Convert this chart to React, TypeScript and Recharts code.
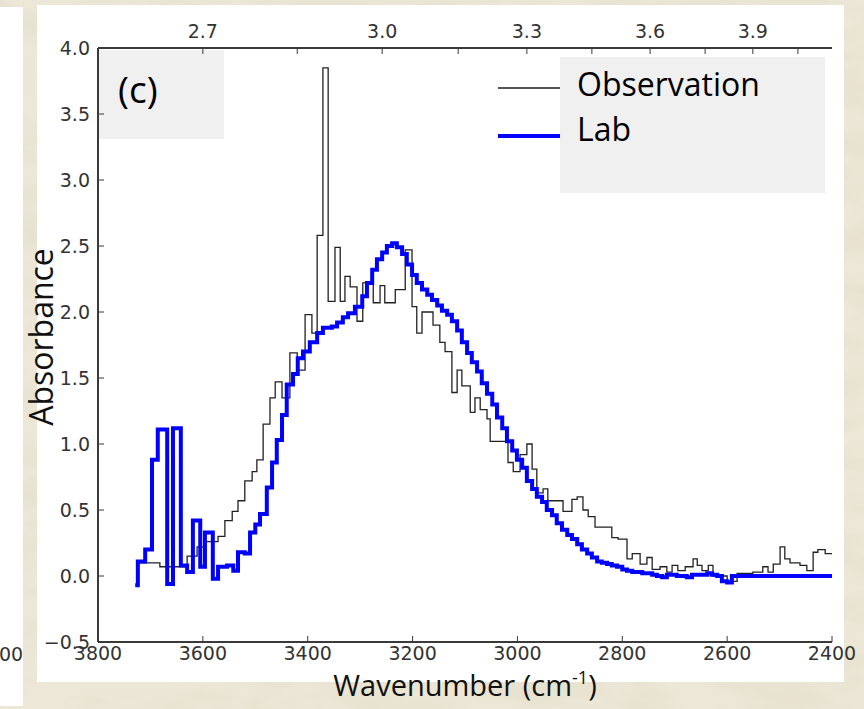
import React from 'react';
import { LineChart, Line, XAxis, YAxis, Legend } from 'recharts';

// ---- data (wavenumber in cm^-1, absorbance) ----
const obsWavenumber = [3726, 3682, 3630, 3611, 3596, 3571, 3558, 3544, 3533, 3520, 3506, 3497, 3485, 3472, 3462, 3449, 3434, 3420, 3405, 3392, 3382, 3371, 3361, 3348, 3338, 3329, 3319, 3306, 3295, 3275, 3262, 3253, 3233, 3214, 3201, 3192, 3182, 3161, 3148, 3138, 3125, 3115, 3106, 3090, 3081, 3071, 3058, 3052, 3018, 3008, 2995, 2982, 2972, 2963, 2951, 2942, 2913, 2896, 2886, 2875, 2865, 2852, 2820, 2808, 2791, 2781, 2766, 2753, 2743, 2728, 2715, 2705, 2694, 2680, 2665, 2657, 2648, 2636, 2627, 2600, 2581, 2551, 2532, 2522, 2512, 2499, 2490, 2480, 2461, 2448, 2436, 2427, 2413, 2400];
const obsAbsorbance = [0.10, 0.07, 0.15, 0.22, 0.26, 0.30, 0.42, 0.49, 0.57, 0.72, 0.79, 0.88, 1.15, 1.35, 1.47, 1.35, 1.69, 1.56, 1.98, 1.84, 2.58, 3.85, 2.08, 2.49, 2.08, 2.27, 2.19, 1.93, 2.22, 2.07, 2.20, 2.07, 2.17, 2.47, 2.04, 1.84, 2.00, 1.90, 1.77, 1.70, 1.39, 1.56, 1.44, 1.24, 1.35, 1.26, 1.19, 1.02, 0.86, 0.79, 0.92, 1.00, 0.81, 0.63, 0.66, 0.57, 0.49, 0.58, 0.60, 0.50, 0.45, 0.37, 0.29, 0.28, 0.13, 0.17, 0.09, 0.14, 0.05, 0.07, 0.03, 0.08, 0.04, 0.07, 0.13, 0.08, 0.04, 0.08, 0.00, -0.04, 0.02, 0.03, 0.07, 0.03, 0.09, 0.22, 0.13, 0.10, 0.08, 0.04, 0.18, 0.20, 0.17, 0.17];

const labWavenumber = [3729, 3724, 3710, 3697, 3686, 3668, 3657, 3642, 3630, 3619, 3605, 3596, 3581, 3571, 3554, 3542, 3533, 3520, 3510, 3500, 3491, 3478, 3468, 3459, 3449, 3440, 3428, 3419, 3409, 3396, 3382, 3371, 3354, 3344, 3333, 3323, 3310, 3296, 3287, 3277, 3268, 3258, 3249, 3239, 3230, 3220, 3211, 3201, 3192, 3182, 3172, 3163, 3153, 3144, 3134, 3125, 3115, 3106, 3096, 3087, 3077, 3068, 3058, 3048, 3039, 3029, 3020, 3010, 3001, 2991, 2982, 2972, 2963, 2953, 2944, 2934, 2925, 2915, 2905, 2896, 2886, 2877, 2867, 2858, 2848, 2839, 2829, 2820, 2810, 2800, 2791, 2781, 2762, 2743, 2734, 2724, 2715, 2696, 2677, 2667, 2648, 2638, 2629, 2619, 2610, 2600, 2591, 2400];
const labAbsorbance = [-0.07, 0.11, 0.20, 0.88, 1.11, -0.06, 1.12, 0.08, 0.03, 0.42, 0.07, 0.33, -0.02, 0.07, 0.08, 0.04, 0.18, 0.17, 0.33, 0.39, 0.47, 0.67, 0.86, 1.03, 1.22, 1.45, 1.53, 1.65, 1.70, 1.77, 1.84, 1.88, 1.89, 1.92, 1.96, 1.99, 2.04, 2.12, 2.22, 2.32, 2.40, 2.45, 2.50, 2.52, 2.49, 2.44, 2.36, 2.28, 2.22, 2.17, 2.13, 2.09, 2.05, 2.01, 1.98, 1.93, 1.86, 1.77, 1.69, 1.62, 1.55, 1.46, 1.38, 1.30, 1.20, 1.12, 1.02, 0.95, 0.88, 0.82, 0.72, 0.66, 0.60, 0.56, 0.50, 0.46, 0.40, 0.35, 0.31, 0.28, 0.24, 0.20, 0.17, 0.14, 0.11, 0.10, 0.09, 0.08, 0.07, 0.05, 0.04, 0.03, 0.02, 0.01, 0.00, -0.01, 0.01, 0.00, -0.01, 0.01, 0.01, 0.02, 0.01, 0.00, -0.04, -0.05, 0.00, 0.00];

const bottomTicks = [3800, 3600, 3400, 3200, 3000, 2800, 2600, 2400];
const yTicks = [-0.5, 0, 0.5, 1, 1.5, 2, 2.5, 3, 3.5, 4];
const topTickWavenumber = [3600, 3420, 3258, 3113, 2982, 2858, 2747, 2642, 2551, 2465];
const topTickLabels = ['2.7', '', '3.0', '', '3.3', '', '3.6', '', '3.9', ''];
const seriesNames = ['Observation', 'Lab'];
const panelTag = '(c)';
const xTitle = 'Wavenumber (cm';
const xTitleSup = '-1';
const yTitle = 'Absorbance';

const obsData = obsWavenumber.map((wn, i) => ({ wn, v: obsAbsorbance[i] }));
const labData = labWavenumber.map((wn, i) => ({ wn, v: labAbsorbance[i] }));

const W = 864;
const H = 709;
const OBS_COLOR = '#222222';
const LAB_COLOR = '#0000ff';
const AXIS_COLOR = '#3a3a3a';
const TICK_FONT = { fill: '#333', fontSize: 19, fontFamily: 'DejaVu Sans' };
const LABEL_FONT = 'Open Sans';

const fmtY = (v: number) => (v < 0 ? '\u2212' + Math.abs(v).toFixed(1) : v.toFixed(1));
const fmtTop = (v: number) => {
  const i = topTickWavenumber.indexOf(v);
  return i >= 0 ? topTickLabels[i] : '';
};

const XTitle = (props: any) => {
  const vb = props.viewBox || {};
  const cx = vb.x + vb.width / 2;
  return (
    <text x={cx} y={696} textAnchor="middle" fontFamily={LABEL_FONT} fontSize={29} fill="#111">
      {xTitle}
      <tspan fontSize={18} dy={-12}>{xTitleSup}</tspan>
      <tspan fontSize={29} dy={12}>)</tspan>
    </text>
  );
};

const YTitle = () => {
  const cy = 337;
  const cx = 40;
  return (
    <text x={cx} y={cy} transform={`rotate(-90 ${cx} ${cy})`} textAnchor="middle" dominantBaseline="central" fontFamily={LABEL_FONT} fontSize={32} fill="#111">
      {yTitle}
    </text>
  );
};

const LegendBox = () => (
  <svg width={330} height={140} style={{ display: 'block' }}>
    <rect x={62} y={0} width={265} height={136} fill="#f0f0f0" />
    <line x1={0} x2={62} y1={31} y2={31} stroke="#555" strokeWidth={2} />
    <line x1={0} x2={62} y1={79} y2={79} stroke={LAB_COLOR} strokeWidth={4} />
    <text x={79} y={26} dominantBaseline="central" fontFamily={LABEL_FONT} fontSize={32} fill="#000">{seriesNames[0]}</text>
    <text x={79} y={71} dominantBaseline="central" fontFamily={LABEL_FONT} fontSize={32} fill="#000">{seriesNames[1]}</text>
  </svg>
);

const Backdrop = () => (
  <svg width={W} height={H} style={{ position: 'absolute', left: 0, top: 0 }}>
    <defs>
      <filter id="marble" x="0" y="0" width="100%" height="100%">
        <feTurbulence type="fractalNoise" baseFrequency="0.012 0.03" numOctaves={4} seed={7} result="n" />
        <feColorMatrix type="matrix" in="n"
          values="0 0 0 0 0.80  0 0 0 0 0.76  0 0 0 0 0.62  0 0 0 -2.2 1.45" />
      </filter>
    </defs>
    <rect x={0} y={0} width={W} height={H} fill="#ece7d7" />
    <rect x={0} y={0} width={W} height={H} filter="url(#marble)" />
    <rect x={0} y={7} width={23} height={699} fill="#ffffff" />
    <rect x={37} y={5} width={807} height={677} fill="#ffffff" />
    <text x={-1} y={661} fontFamily="DejaVu Sans" fontSize={19} fill="#333">00</text>
    <rect x={99} y={50} width={125} height={89} fill="#f0f0f0" />
    <text x={118} y={103} fontFamily={LABEL_FONT} fontSize={37} fill="#000">{panelTag}</text>
  </svg>
);

export default function App() {
  return (
    <div style={{ position: 'absolute', left: 0, top: 0, width: W, height: H, overflow: 'hidden' }}>
      <Backdrop />
      <div style={{ position: 'absolute', left: 0, top: 0 }}>
        <LineChart width={W} height={H} margin={{ top: 8, right: 32, bottom: 27, left: 38 }}>
          <XAxis
            xAxisId="bottom"
            type="number"
            dataKey="wn"
            domain={[2400, 3800]}
            reversed
            ticks={bottomTicks}
            interval={0}
            height={40}
            tick={TICK_FONT}
            tickSize={-6}
            tickMargin={11}
            axisLine={{ stroke: AXIS_COLOR, strokeWidth: 2 }}
            tickLine={{ stroke: AXIS_COLOR, strokeWidth: 1 }}
            allowDataOverflow
            label={{ content: XTitle }}
          />
          <XAxis
            xAxisId="top"
            orientation="top"
            type="number"
            dataKey="wn"
            domain={[2400, 3800]}
            reversed
            ticks={topTickWavenumber}
            tickFormatter={fmtTop}
            interval={0}
            height={40}
            tick={TICK_FONT}
            tickSize={-6}
            tickMargin={16}
            axisLine={{ stroke: AXIS_COLOR, strokeWidth: 2 }}
            tickLine={{ stroke: AXIS_COLOR, strokeWidth: 1 }}
            allowDataOverflow
          />
          <YAxis
            yAxisId="left"
            type="number"
            domain={[-0.5, 4]}
            ticks={yTicks}
            interval={0}
            width={60}
            tick={TICK_FONT}
            tickFormatter={fmtY}
            tickSize={-6}
            tickMargin={14}
            axisLine={{ stroke: AXIS_COLOR, strokeWidth: 2 }}
            tickLine={{ stroke: AXIS_COLOR, strokeWidth: 1 }}
            allowDataOverflow
            label={{ content: YTitle }}
          />
          <YAxis
            yAxisId="right"
            orientation="right"
            type="number"
            domain={[-0.5, 4]}
            ticks={yTicks}
            interval={0}
            width={0}
            tick={false}
            tickSize={-6}
            axisLine={{ stroke: AXIS_COLOR, strokeWidth: 2 }}
            tickLine={{ stroke: AXIS_COLOR, strokeWidth: 1 }}
            allowDataOverflow
          />
          <Line
            xAxisId="bottom"
            yAxisId="left"
            data={obsData}
            dataKey="v"
            name={seriesNames[0]}
            type="stepAfter"
            stroke={OBS_COLOR}
            strokeWidth={1.3}
            dot={false}
            activeDot={false}
            isAnimationActive={false}
          />
          <Line
            xAxisId="bottom"
            yAxisId="left"
            data={labData}
            dataKey="v"
            name={seriesNames[1]}
            type="stepAfter"
            stroke={LAB_COLOR}
            strokeWidth={4}
            dot={false}
            activeDot={false}
            isAnimationActive={false}
          />
          <Legend
            layout="vertical"
            align="center"
            verticalAlign="middle"
            content={() => <LegendBox />}
            wrapperStyle={{ position: 'absolute', left: 498, top: 57, width: 330, height: 140 }}
          />
        </LineChart>
      </div>
    </div>
  );
}
